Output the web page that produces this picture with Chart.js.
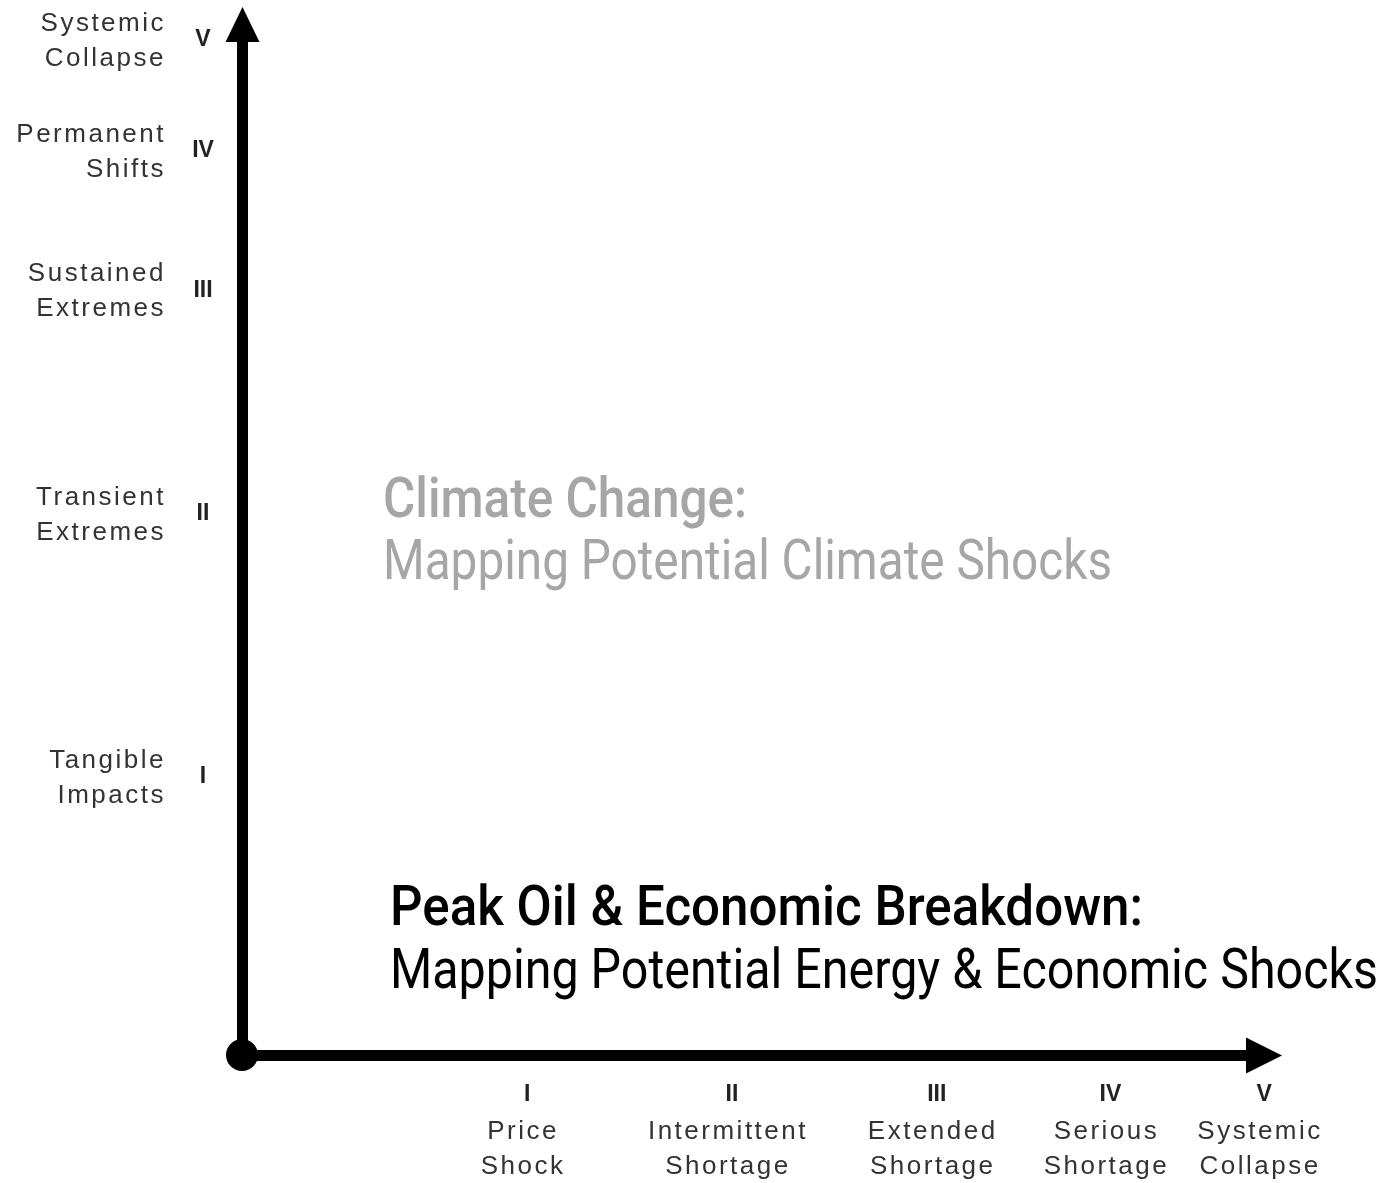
<!DOCTYPE html>
<html>
<head>
<meta charset="utf-8">
<script src="https://cdn.jsdelivr.net/npm/chart.js@4.4.0/dist/chart.umd.min.js"></script>
<style>
  html, body { margin: 0; background: #fff; }
  #wrap { width: 1388px; height: 1183px; }
</style>
</head>
<body>
<div id="wrap"><canvas id="shockChart"></canvas></div>
<script>
// tick positions along each axis (0 = origin, 10 = arrow base)
const xTickValues = [2.84, 4.88, 6.92, 8.65, 10.18];
const xNumerals = ['I', 'II', 'III', 'IV', 'V'];
const xNames = [['Price', 'Shock'], ['Intermittent', 'Shortage'], ['Extended', 'Shortage'], ['Serious', 'Shortage'], ['Systemic', 'Collapse']];

const yTickValues = [2.75, 5.34, 7.55, 8.93, 10.02];
const yNumerals = ['I', 'II', 'III', 'IV', 'V'];
const yNames = [['Tangible', 'Impacts'], ['Transient', 'Extremes'], ['Sustained', 'Extremes'], ['Permanent', 'Shifts'], ['Systemic', 'Collapse']];

const titleClimate = ['Climate Change:', 'Mapping Potential Climate Shocks'];
const titleOil = ['Peak Oil & Economic Breakdown:', 'Mapping Potential Energy & Economic Shocks'];

const origin = [{ x: 0, y: 0 }];

// draws text squeezed horizontally to a given width (condensed face look)
function condensedText(ctx, text, x, y, font, width) {
  ctx.font = font;
  const w = ctx.measureText(text).width;
  ctx.save();
  ctx.translate(x, y);
  ctx.scale(width / w, 1);
  ctx.fillText(text, 0, 0);
  ctx.restore();
}

const axisLabels = {
  id: 'axisLabels',
  afterDraw(chart) {
    const { ctx, chartArea: a, scales: { x, y } } = chart;
    const cx = a.left + 0.5;
    ctx.save();

    // arrow heads
    ctx.fillStyle = '#000';
    ctx.beginPath();
    ctx.moveTo(cx - 17, a.top);
    ctx.lineTo(cx, a.top - 35);
    ctx.lineTo(cx + 17, a.top);
    ctx.closePath();
    ctx.fill();
    ctx.beginPath();
    ctx.moveTo(a.right, a.bottom + 0.5 - 18);
    ctx.lineTo(a.right + 36, a.bottom + 0.5);
    ctx.lineTo(a.right, a.bottom + 0.5 + 18);
    ctx.closePath();
    ctx.fill();

    // x ticks
    ctx.textBaseline = 'middle';
    ctx.textAlign = 'center';
    xTickValues.forEach((v, i) => {
      const px = x.getPixelForValue(v);
      ctx.letterSpacing = '0px';
      ctx.fillStyle = '#222';
      ctx.font = 'bold 23px "Liberation Sans"';
      ctx.fillText(xNumerals[i], px, a.bottom + 40);
      ctx.letterSpacing = '2.5px';
      ctx.fillStyle = '#333';
      ctx.font = '26px "Liberation Sans"';
      ctx.fillText(xNames[i][0], px - 4, a.bottom + 77);
      ctx.fillText(xNames[i][1], px - 4, a.bottom + 112);
    });

    // y ticks
    yTickValues.forEach((v, i) => {
      const py = y.getPixelForValue(v);
      ctx.letterSpacing = '0px';
      ctx.textAlign = 'center';
      ctx.fillStyle = '#222';
      ctx.font = 'bold 23px "Liberation Sans"';
      ctx.fillText(yNumerals[i], 203, py);
      ctx.letterSpacing = '2.5px';
      ctx.textAlign = 'right';
      ctx.fillStyle = '#333';
      ctx.font = '26px "Liberation Sans"';
      ctx.fillText(yNames[i][0], 166, py - 16);
      ctx.fillText(yNames[i][1], 166, py + 19);
    });

    // titles
    ctx.letterSpacing = '0px';
    ctx.textAlign = 'left';
    ctx.textBaseline = 'alphabetic';
    ctx.fillStyle = '#a6a6a6';
    condensedText(ctx, titleClimate[0], 383, 517, '500 55px Roboto', 364);
    condensedText(ctx, titleClimate[1], 383, 579, '400 55px Roboto', 729);
    ctx.fillStyle = '#000';
    condensedText(ctx, titleOil[0], 390, 925, '500 56px Roboto', 753);
    condensedText(ctx, titleOil[1], 390, 988, '400 56px Roboto', 988);

    ctx.restore();
  }
};

new Chart(document.getElementById('shockChart'), {
  type: 'scatter',
  data: {
    datasets: [{
      data: origin,
      pointRadius: 16,
      pointHoverRadius: 16,
      backgroundColor: '#000',
      borderWidth: 0,
      clip: false
    }]
  },
  options: {
    responsive: true,
    maintainAspectRatio: false,
    animation: false,
    events: [],
    layout: { padding: { left: 242, right: 142, top: 42, bottom: 128 } },
    plugins: { legend: { display: false }, tooltip: { enabled: false } },
    scales: {
      x: {
        type: 'linear', min: 0, max: 10,
        grid: { display: false },
        border: { display: true, width: 11, color: '#000' },
        ticks: { display: false },
        afterBuildTicks: s => { s.ticks = xTickValues.map(v => ({ value: v })); },
        afterFit: s => { s.height = 0; }
      },
      y: {
        type: 'linear', min: 0, max: 10,
        grid: { display: false },
        border: { display: true, width: 11, color: '#000' },
        ticks: { display: false },
        afterBuildTicks: s => { s.ticks = yTickValues.map(v => ({ value: v })); },
        afterFit: s => { s.width = 0; }
      }
    }
  },
  plugins: [axisLabels]
});
</script>
</body>
</html>
